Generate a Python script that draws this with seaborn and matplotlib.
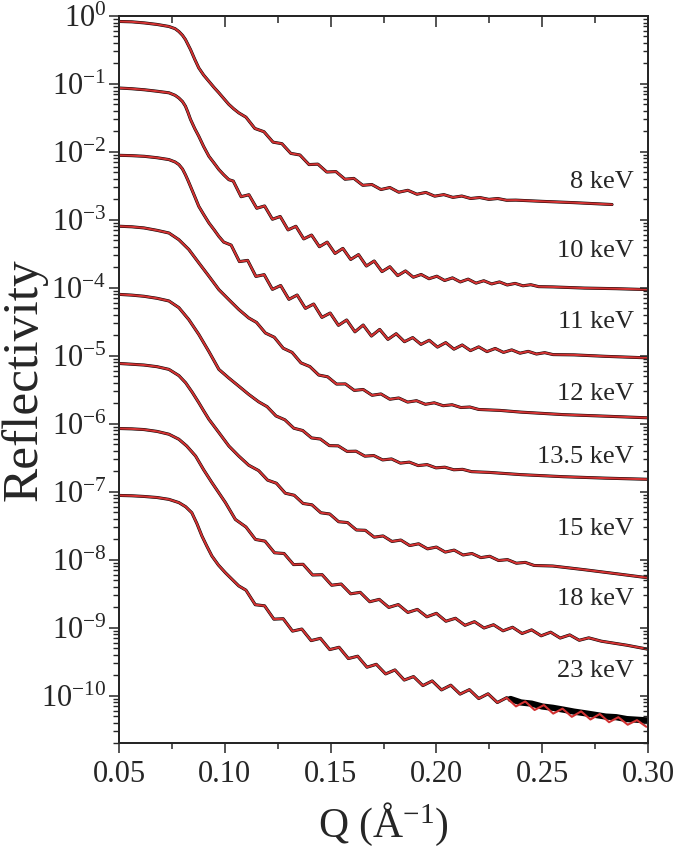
import numpy as np
import pandas as pd
import matplotlib
matplotlib.use('Agg')
from matplotlib import pyplot as plt
from matplotlib.ticker import (MultipleLocator, LogLocator, FixedLocator, FormatStrFormatter,
                               LogFormatterMathtext, NullFormatter)
import seaborn as sb

# ---- data (Q in 1/A, reflectivity, offset curves) ----
energies = ['8 keV', '10 keV', '11 keV', '12 keV', '13.5 keV', '15 keV', '18 keV', '23 keV']

q_8 = [0.050, 0.056, 0.062, 0.068, 0.0736, 0.0765, 0.0783, 0.0800, 0.0814, 0.0838,
       0.0858, 0.0877, 0.0900, 0.0925, 0.0950, 0.0972, 0.0995, 0.1019, 0.1042, 0.1066,
       0.1100, 0.1142, 0.1185, 0.1228, 0.1270, 0.1312, 0.1355, 0.1398, 0.1440, 0.1482,
       0.1525, 0.1568, 0.1610, 0.1652, 0.1695, 0.1738, 0.1780, 0.1822, 0.1865, 0.1908,
       0.1950, 0.1992, 0.2035, 0.2078, 0.2120, 0.2162, 0.2205, 0.2248, 0.2290, 0.2332,
       0.2375, 0.250, 0.265, 0.283]
r_8 = [0.83, 0.82, 0.79, 0.75, 0.70, 0.65, 0.59, 0.52, 0.45, 0.32,
       0.23, 0.172, 0.135, 0.109, 0.088, 0.074, 0.061, 0.050, 0.043, 0.0375,
       3.24e-2, 2.21e-2, 1.98e-2, 1.39e-2, 1.32e-2, 9.5e-3, 9.0e-3, 6.5e-3, 6.6e-3, 5.05e-3,
       5.13e-3, 3.96e-3, 4.07e-3, 3.22e-3, 3.31e-3, 2.79e-3, 2.99e-3, 2.55e-3, 2.72e-3, 2.38e-3,
       2.53e-3, 2.23e-3, 2.35e-3, 2.14e-3, 2.24e-3, 2.06e-3, 2.13e-3, 2.0e-3, 2.06e-3, 1.94e-3,
       1.95e-3, 1.87e-3, 1.79e-3, 1.68e-3]

q_10 = [0.050, 0.056, 0.062, 0.068, 0.0736, 0.0765, 0.0783, 0.0800, 0.0814, 0.0826,
        0.0838, 0.0858, 0.0877, 0.0900, 0.0925, 0.0950, 0.0972, 0.0995, 0.1019,
        0.1040, 0.1077, 0.1114, 0.1151, 0.1188, 0.1225, 0.1262, 0.1299, 0.1336, 0.1373,
        0.1410, 0.1447, 0.1484, 0.1521, 0.1558, 0.1595, 0.1632, 0.1669, 0.1706, 0.1743,
        0.1780, 0.1817, 0.1854, 0.1891, 0.1928, 0.1965, 0.2002, 0.2039, 0.2076, 0.2113,
        0.2150, 0.2187, 0.2224, 0.2261, 0.2298, 0.2335, 0.2372, 0.2409, 0.2446, 0.2483,
        0.255, 0.270, 0.285, 0.300]
r_10 = [0.087, 0.085, 0.082, 0.078, 0.074, 0.068, 0.062, 0.055, 0.047, 0.038,
        0.030, 0.022, 0.017, 0.012, 0.0086, 0.0068, 0.0055, 0.0046, 0.0039,
        3.72e-3, 2.19e-3, 2.34e-3, 1.48e-3, 1.60e-3, 1.02e-3, 1.12e-3, 7.11e-4, 8.04e-4, 5.24e-4,
        5.97e-4, 4.02e-4, 4.70e-4, 3.20e-4, 3.80e-4, 2.61e-4, 3.08e-4, 2.09e-4, 2.48e-4, 1.73e-4,
        2.04e-4, 1.51e-4, 1.77e-4, 1.43e-4, 1.57e-4, 1.36e-4, 1.48e-4, 1.28e-4, 1.40e-4, 1.22e-4,
        1.34e-4, 1.17e-4, 1.27e-4, 1.14e-4, 1.22e-4, 1.10e-4, 1.16e-4, 1.07e-4, 1.11e-4, 1.04e-4,
        1.03e-4, 9.9e-5, 9.7e-5, 9.4e-5]

q_11 = [0.050, 0.056, 0.062, 0.068, 0.0736, 0.0765, 0.0783, 0.0800, 0.0814, 0.0826,
        0.0838, 0.0858, 0.0877, 0.0900, 0.0925, 0.0950, 0.0972, 0.0995,
        0.1030, 0.1069, 0.1108, 0.1147, 0.1186, 0.1225, 0.1264, 0.1303, 0.1342, 0.1381,
        0.1420, 0.1459, 0.1498, 0.1537, 0.1576, 0.1615, 0.1654, 0.1693, 0.1732, 0.1771,
        0.1810, 0.1849, 0.1888, 0.1927, 0.1966, 0.2005, 0.2044, 0.2083, 0.2122, 0.2161,
        0.2200, 0.2239, 0.2278, 0.2317, 0.2356, 0.2395, 0.2434, 0.2473, 0.2512, 0.2551,
        0.265, 0.280, 0.300]
r_11 = [8.9e-3, 8.8e-3, 8.6e-3, 8.2e-3, 7.7e-3, 7.1e-3, 6.5e-3, 5.6e-3, 4.6e-3, 3.8e-3,
        3.1e-3, 2.2e-3, 1.58e-3, 1.2e-3, 9.0e-4, 7.1e-4, 5.7e-4, 4.7e-4,
        4.25e-4, 2.43e-4, 2.53e-4, 1.47e-4, 1.56e-4, 9.48e-5, 1.08e-4, 6.76e-5, 7.83e-5, 4.98e-5,
        5.77e-5, 3.67e-5, 4.25e-5, 2.80e-5, 3.36e-5, 2.25e-5, 2.83e-5, 1.95e-5, 2.44e-5, 1.74e-5,
        2.11e-5, 1.61e-5, 1.85e-5, 1.47e-5, 1.69e-5, 1.34e-5, 1.56e-5, 1.25e-5, 1.44e-5, 1.19e-5,
        1.35e-5, 1.15e-5, 1.28e-5, 1.12e-5, 1.22e-5, 1.09e-5, 1.16e-5, 1.06e-5, 1.11e-5, 1.04e-5,
        1.03e-5, 9.8e-6, 9.3e-6]

q_12 = [0.050, 0.056, 0.0618, 0.068, 0.0736, 0.0783, 0.0830, 0.0877, 0.0925, 0.0972,
        0.1019, 0.1066, 0.1113,
        0.1150, 0.1192, 0.1234, 0.1276, 0.1318, 0.1360, 0.1402, 0.1444, 0.1486, 0.1528,
        0.1570, 0.1612, 0.1654, 0.1696, 0.1738, 0.1780, 0.1822, 0.1864, 0.1906, 0.1948,
        0.1990, 0.2032, 0.2074, 0.2116, 0.2158, 0.2200, 0.230, 0.240, 0.260, 0.280, 0.300]
r_12 = [8.05e-4, 7.9e-4, 7.6e-4, 7.0e-4, 6.4e-4, 5.1e-4, 3.66e-4, 2.33e-4, 1.48e-4, 9.4e-5,
        6.7e-5, 4.8e-5, 3.6e-5,
        3.09e-5, 2.16e-5, 1.87e-5, 1.29e-5, 1.12e-5, 7.85e-6, 6.93e-6, 5.20e-6, 4.90e-6, 3.83e-6,
        3.85e-6, 3.09e-6, 3.19e-6, 2.62e-6, 2.74e-6, 2.29e-6, 2.39e-6, 2.08e-6, 2.18e-6, 1.93e-6,
        2.03e-6, 1.84e-6, 1.90e-6, 1.73e-6, 1.76e-6, 1.62e-6, 1.57e-6, 1.48e-6, 1.36e-6, 1.29e-6,
        1.22e-6]

q_135 = [0.050, 0.056, 0.0618, 0.068, 0.0736, 0.0783, 0.0830, 0.0877, 0.0925, 0.0972,
         0.1019, 0.1066, 0.1113, 0.1160,
         0.1200, 0.1242, 0.1284, 0.1326, 0.1368, 0.1410, 0.1452, 0.1494, 0.1536, 0.1578,
         0.1620, 0.1662, 0.1704, 0.1746, 0.1788, 0.1830, 0.1872, 0.1914, 0.1956, 0.1998,
         0.2040, 0.2082, 0.2124, 0.2166, 0.225, 0.240, 0.260, 0.280, 0.300]
r_135 = [8.0e-5, 7.8e-5, 7.5e-5, 7.0e-5, 6.4e-5, 5.1e-5, 3.4e-5, 2.06e-5, 1.15e-5, 6.3e-6,
         4.7e-6, 3.57e-6, 2.7e-6, 2.1e-6,
         1.78e-6, 1.30e-6, 1.14e-6, 8.59e-7, 7.94e-7, 6.18e-7, 5.94e-7, 4.76e-7, 4.72e-7, 3.91e-7,
         3.94e-7, 3.33e-7, 3.40e-7, 2.93e-7, 3.03e-7, 2.63e-7, 2.72e-7, 2.42e-7, 2.50e-7, 2.24e-7,
         2.29e-7, 2.10e-7, 2.13e-7, 1.97e-7, 1.92e-7, 1.78e-7, 1.66e-7, 1.58e-7, 1.52e-7]

q_15 = [0.050, 0.056, 0.0618, 0.068, 0.0736, 0.0783, 0.0815, 0.0846, 0.0877, 0.0900,
        0.0925, 0.0972, 0.1019, 0.1066, 0.1113,
        0.1160, 0.1202, 0.1244, 0.1286, 0.1328, 0.1370, 0.1412, 0.1454, 0.1496, 0.1538,
        0.1580, 0.1622, 0.1664, 0.1706, 0.1748, 0.1790, 0.1832, 0.1874, 0.1916, 0.1958,
        0.2000, 0.2042, 0.2084, 0.2126, 0.2168, 0.2210, 0.2252, 0.2294, 0.2336, 0.2378,
        0.2420, 0.2462, 0.255, 0.270, 0.285, 0.300]
r_15 = [7.7e-6, 7.5e-6, 7.3e-6, 6.9e-6, 6.3e-6, 5.1e-6, 4.0e-6, 2.9e-6, 2.04e-6, 1.55e-6,
        1.16e-6, 7.4e-7, 4.7e-7, 3.34e-7, 2.45e-7,
        2.04e-7, 1.48e-7, 1.33e-7, 9.48e-8, 8.85e-8, 6.70e-8, 6.40e-8, 4.89e-8, 4.69e-8, 3.61e-8,
        3.51e-8, 2.73e-8, 2.70e-8, 2.14e-8, 2.23e-8, 1.85e-8, 1.94e-8, 1.61e-8, 1.71e-8, 1.44e-8,
        1.53e-8, 1.29e-8, 1.38e-8, 1.17e-8, 1.23e-8, 1.07e-8, 1.12e-8, 9.7e-9, 1.0e-8, 8.85e-9,
        9.1e-9, 8.2e-9, 8.05e-9, 7.1e-9, 6.2e-9, 5.4e-9]

q_18 = [0.050, 0.056, 0.0618, 0.068, 0.0736, 0.0783, 0.0820, 0.0862, 0.0900, 0.0939,
        0.0970, 0.1003, 0.1050,
        0.1100, 0.1145, 0.1190, 0.1235, 0.1280, 0.1325, 0.1370, 0.1415, 0.1460, 0.1505,
        0.1550, 0.1595, 0.1640, 0.1685, 0.1730, 0.1775, 0.1820, 0.1865, 0.1910, 0.1955,
        0.2000, 0.2045, 0.2090, 0.2135, 0.2180, 0.2225, 0.2270, 0.2315, 0.2360, 0.2405,
        0.2450, 0.2495, 0.2540, 0.2585, 0.2630, 0.2675, 0.2720, 0.278, 0.290, 0.300]
r_18 = [8.5e-7, 8.4e-7, 8.2e-7, 7.7e-7, 7.0e-7, 5.9e-7, 4.7e-7, 3.34e-7, 2.1e-7, 1.36e-7,
        9.8e-8, 6.9e-8, 3.9e-8,
        3.02e-8, 1.98e-8, 1.87e-8, 1.26e-8, 1.23e-8, 8.45e-9, 8.53e-9, 5.94e-9, 6.0e-9, 4.20e-9,
        4.37e-9, 3.14e-9, 3.30e-9, 2.40e-9, 2.60e-9, 1.98e-9, 2.18e-9, 1.67e-9, 1.85e-9, 1.44e-9,
        1.62e-9, 1.24e-9, 1.37e-9, 1.08e-9, 1.22e-9, 9.86e-10, 1.10e-9, 8.97e-10, 1.01e-9, 8.18e-10,
        9.25e-10, 7.57e-10, 8.55e-10, 7.01e-10, 7.80e-10, 6.50e-10, 7.06e-10, 6.3e-10, 5.5e-10,
        4.8e-10]

q_23 = [0.050, 0.056, 0.0618, 0.068, 0.0736, 0.0783, 0.0815, 0.0844, 0.0868, 0.0892,
        0.0915, 0.0939, 0.0970, 0.1003, 0.1035, 0.1066,
        0.1100, 0.1144, 0.1188, 0.1232, 0.1276, 0.1320, 0.1364, 0.1408, 0.1452, 0.1496,
        0.1540, 0.1584, 0.1628, 0.1672, 0.1716, 0.1760, 0.1804, 0.1848, 0.1892, 0.1936,
        0.1980, 0.2024, 0.2068, 0.2112, 0.2156, 0.2200, 0.2244, 0.2288, 0.2332, 0.2376,
        0.2420, 0.2464, 0.2508, 0.2552, 0.2596, 0.2640, 0.2684, 0.2728, 0.2772, 0.2816,
        0.2860, 0.2904, 0.2948, 0.2992]
r_23 = [8.8e-8, 8.7e-8, 8.5e-8, 8.2e-8, 7.7e-8, 6.9e-8, 6.0e-8, 4.9e-8, 3.4e-8, 2.22e-8,
        1.58e-8, 1.13e-8, 8.3e-9, 6.4e-9, 5.1e-9, 4.1e-9,
        3.55e-9, 2.17e-9, 2.09e-9, 1.33e-9, 1.35e-9, 8.87e-10, 9.51e-10, 6.43e-10, 6.95e-10, 4.74e-10,
        5.13e-10, 3.50e-10, 3.79e-10, 2.61e-10, 2.88e-10, 2.08e-10, 2.38e-10, 1.69e-10, 1.90e-10, 1.40e-10,
        1.64e-10, 1.21e-10, 1.42e-10, 1.05e-10, 1.22e-10, 9.02e-11, 1.06e-10, 7.89e-11, 9.29e-11, 6.92e-11,
        8.18e-11, 6.12e-11, 7.24e-11, 5.42e-11, 6.41e-11, 4.86e-11, 5.85e-11, 4.44e-11, 5.35e-11, 4.05e-11,
        4.80e-11, 3.72e-11, 4.34e-11, 3.47e-11]

# measured 23 keV points sit above the fit at high Q
q_23_meas_tail = [0.235, 0.240, 0.245, 0.250, 0.255, 0.260, 0.265, 0.270, 0.275,
                  0.280, 0.285, 0.290, 0.295, 0.300]
r_23_meas_tail = [8.9e-11, 7.9e-11, 7.6e-11, 6.9e-11, 6.6e-11, 6.2e-11, 5.8e-11, 5.5e-11,
                  5.2e-11, 4.9e-11, 4.8e-11, 4.5e-11, 4.4e-11, 4.3e-11]

label_r = [3.66e-3, 3.42e-4, 3.1e-5, 2.7e-6, 3.19e-7, 2.79e-8, 2.61e-9, 2.28e-10]
decades = [1e-10, 1e-9, 1e-8, 1e-7, 1e-6, 1e-5, 1e-4, 1e-3, 1e-2, 1e-1, 1e0]

curves = dict(zip(energies, [(q_8, r_8), (q_10, r_10), (q_11, r_11), (q_12, r_12),
                             (q_135, r_135), (q_15, r_15), (q_18, r_18), (q_23, r_23)]))

fit = pd.concat([pd.DataFrame({'Q': q, 'R': r, 'E': e}) for e, (q, r) in curves.items()],
                ignore_index=True)
meas = fit[~((fit['E'] == '23 keV') & (fit['Q'] >= 0.235))]
tail = pd.DataFrame({'Q': q_23_meas_tail, 'R': r_23_meas_tail, 'E': '23 keV'})
meas = pd.concat([meas, tail], ignore_index=True)

sb.set_style('ticks')
plt.rcParams['font.family'] = ['Liberation Serif', 'DejaVu Serif']
plt.rcParams['mathtext.fontset'] = 'custom'
plt.rcParams['mathtext.rm'] = 'Liberation Serif'
plt.rcParams['mathtext.it'] = 'Liberation Serif:italic'
plt.rcParams['mathtext.bf'] = 'Liberation Serif:bold'

red = '#d23232'

# plotting
fig = plt.figure(figsize=(6.75, 8.58), dpi=100)
ax = fig.add_axes([0.1763, 0.134, 0.7837, 0.8474])

sb.lineplot(data=meas, x='Q', y='R', hue='E', palette={e: 'black' for e in energies},
            estimator=None, sort=False, lw=2.2, legend=False, ax=ax)
# noisy high-Q data of the 23 keV scan shows as a thick dark band
sb.lineplot(data=tail, x='Q', y='R', color='black', estimator=None, sort=False,
            lw=4.5, legend=False, ax=ax)
sb.lineplot(data=fit, x='Q', y='R', hue='E', palette={e: red for e in energies},
            estimator=None, sort=False, lw=1.5, legend=False, ax=ax)

ax.set_yscale('log')
ax.set_xlim(0.05, 0.30)
ax.set_ylim(2e-11, 1.0)

for e, yl in zip(energies, label_r):
    ax.text(0.2934, yl, e, ha='right', va='center', fontsize=19)

ax.xaxis.set_major_locator(MultipleLocator(0.05))
ax.xaxis.set_minor_locator(MultipleLocator(0.025))
ax.xaxis.set_major_formatter(FormatStrFormatter('%.2f'))
ax.yaxis.set_major_locator(FixedLocator(decades))
ax.yaxis.set_minor_locator(LogLocator(base=10, subs=np.arange(2, 10), numticks=20))
ax.yaxis.set_major_formatter(LogFormatterMathtext())
ax.yaxis.set_minor_formatter(NullFormatter())

ax.tick_params(axis='x', which='major', direction='out', length=7.5, width=1.1,
               labelsize=22, pad=5, top=False)
ax.tick_params(axis='x', which='minor', direction='out', length=4.3, width=1.1, top=False)
ax.tick_params(axis='y', which='major', direction='out', length=7, width=1.1,
               labelsize=22, pad=2, right=False)
ax.tick_params(axis='y', which='minor', direction='out', length=4, width=1.0, right=False)

# mirrored ticks pointing inward on the top and right
ax_top = ax.twiny()
ax_top.set_xlim(ax.get_xlim())
ax_top.xaxis.set_major_locator(MultipleLocator(0.05))
ax_top.xaxis.set_minor_locator(MultipleLocator(0.025))
ax_top.tick_params(axis='x', which='major', direction='in', length=8, width=1.1, labeltop=False)
ax_top.tick_params(axis='x', which='minor', direction='in', length=5, width=1.1, labeltop=False)

ax_right = ax.twinx()
ax_right.set_yscale('log')
ax_right.set_ylim(ax.get_ylim())
ax_right.yaxis.set_major_locator(FixedLocator(decades))
ax_right.yaxis.set_minor_locator(LogLocator(base=10, subs=np.arange(2, 10), numticks=20))
ax_right.yaxis.set_minor_formatter(NullFormatter())
ax_right.tick_params(axis='y', which='major', direction='in', length=6, width=1.1, labelright=False)
ax_right.tick_params(axis='y', which='minor', direction='in', length=3.5, width=1.0, labelright=False)

for a in (ax, ax_top, ax_right):
    for s in a.spines.values():
        s.set_linewidth(1.4)

ax.set_xlabel('Q (Å$^{-1}$)', fontsize=30)
ax.set_ylabel('Reflectivity', fontsize=37)
ax.xaxis.set_label_coords(0.5, -0.08)
ax.yaxis.set_label_coords(-0.135, 0.5)

plt.savefig('out.png', dpi=100)
